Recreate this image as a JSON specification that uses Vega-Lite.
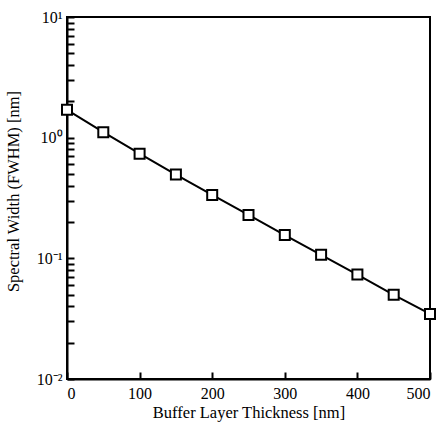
{
  "$schema": "https://vega.github.io/schema/vega-lite/v6.json",
  "autosize": {"type": "none"},
  "padding": {"left": 67, "top": 17, "right": 12, "bottom": 49},
  "width": 363,
  "height": 362,
  "background": "white",
  "config": {
    "view": {"stroke": "black", "strokeWidth": 2},
    "font": "Liberation Serif",
    "axis": {
      "domainColor": "black", "domainWidth": 2, "tickColor": "black", "tickWidth": 2,
      "labelColor": "black", "titleColor": "black", "labelFont": "Liberation Serif", "titleFont": "Liberation Serif",
      "labelFontSize": 16, "titleFontSize": 16.5, "titleFontWeight": "normal", "grid": false
    }
  },
  "data": {"values": [
    {"t": 0, "w": 1.70},
    {"t": 50, "w": 1.11},
    {"t": 100, "w": 0.737},
    {"t": 150, "w": 0.494},
    {"t": 200, "w": 0.335},
    {"t": 250, "w": 0.229},
    {"t": 300, "w": 0.156},
    {"t": 350, "w": 0.107},
    {"t": 400, "w": 0.0733},
    {"t": 450, "w": 0.0498},
    {"t": 500, "w": 0.0346}
  ]},
  "encoding": {
    "x": {"field": "t", "type": "quantitative", "scale": {"domain": [0, 500], "nice": false},
      "axis": {"title": "Buffer Layer Thickness [nm]", "values": [0, 100, 200, 300, 400, 500], "tickSize": -7, "labelPadding": 13, "titlePadding": 3}},
    "y": {"field": "w", "type": "quantitative", "scale": {"type": "log", "domain": [0.01, 10], "nice": false},
      "axis": {"title": "Spectral Width (FWHM) [nm]",
        "values": [0.01,0.02,0.03,0.04,0.05,0.06,0.07,0.08,0.09,0.1,0.2,0.3,0.4,0.5,0.6,0.7,0.8,0.9,1,2,3,4,5,6,7,8,9,10],
        "labelExpr": "datum.value===10?'10¹':datum.value===1?'10⁰':datum.value===0.1?'10⁻¹':datum.value===0.01?'10⁻²':''",
        "tickSize": -7, "labelPadding": 12, "titleX": -46, "titleY": 174}}
  },
  "layer": [
    {"mark": {"type": "line", "color": "black", "strokeWidth": 2}},
    {"mark": {"type": "point", "shape": "square", "filled": true, "fill": "white", "stroke": "black", "strokeWidth": 2, "size": 100, "opacity": 1}}
  ]
}
